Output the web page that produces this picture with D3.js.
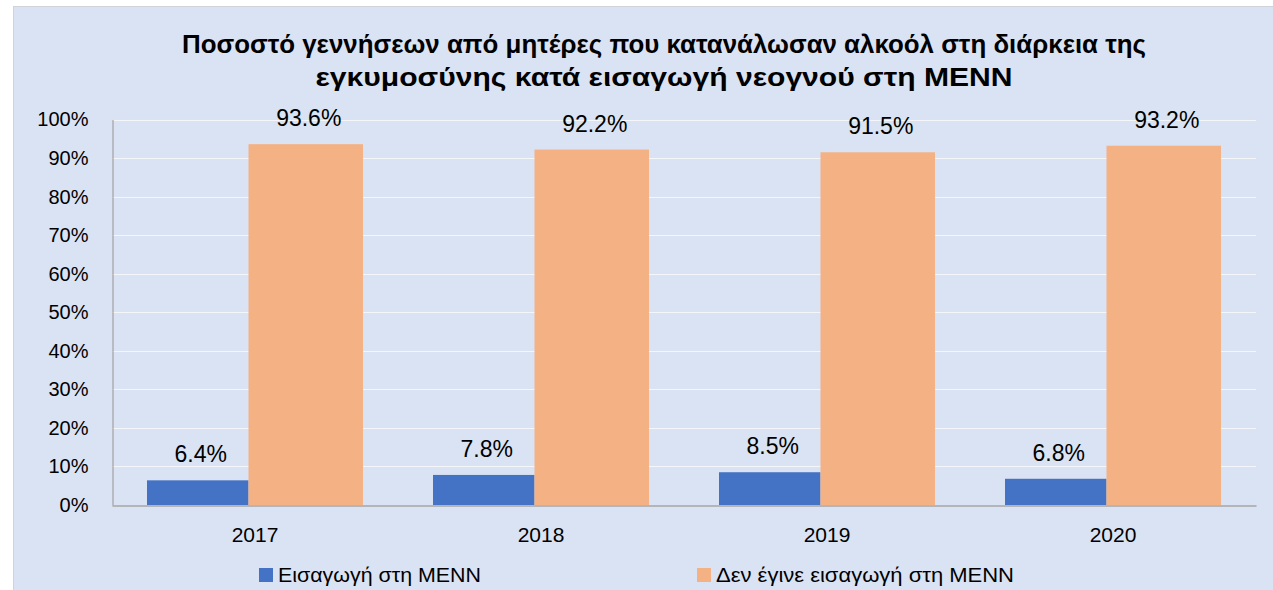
<!DOCTYPE html>
<html>
<head>
<meta charset="utf-8">
<script src="https://cdn.jsdelivr.net/npm/d3@7"></script>
<style>
  body { margin: 0; background: #fff; }
  svg { display: block; font-family: "Liberation Sans", Arial, sans-serif; }
</style>
</head>
<body>
<svg class="vis" width="1273" height="590"></svg>
<script>
// chart data
const years = ["2017", "2018", "2019", "2020"];
const admitted = [6.4, 7.8, 8.5, 6.8];        // Εισαγωγή στη ΜΕΝΝ
const notAdmitted = [93.6, 92.2, 91.5, 93.2]; // Δεν έγινε εισαγωγή στη ΜΕΝΝ
const seriesNames = ["Εισαγωγή στη ΜΕΝΝ", "Δεν έγινε εισαγωγή στη ΜΕΝΝ"];
const yTicks = [0, 10, 20, 30, 40, 50, 60, 70, 80, 90, 100];
const titleLines = [
  "Ποσοστό γεννήσεων από μητέρες που κατανάλωσαν αλκοόλ στη διάρκεια της",
  "εγκυμοσύνης κατά εισαγωγή νεογνού στη ΜΕΝΝ"
];

const colors = ["#4472c4", "#f4b183"];

const svg = d3.select("svg.vis");

// panel
svg.append("rect")
  .attr("x", 13.5).attr("y", 6.5)
  .attr("width", 1262).attr("height", 590)
  .attr("fill", "#dae3f3")
  .attr("stroke", "#d0d4da");

// title
const titleWidths = [964, 697];
svg.append("g").selectAll("text")
  .data(titleLines)
  .join("text")
  .attr("x", 664)
  .attr("y", (d, i) => 53 + i * 33)
  .attr("text-anchor", "middle")
  .attr("font-weight", "bold")
  .attr("font-size", 26)
  .attr("fill", "#000")
  .attr("textLength", (d, i) => titleWidths[i])
  .attr("lengthAdjust", "spacingAndGlyphs")
  .text(d => d);

const x = d3.scaleBand()
  .domain(years)
  .range([112, 1256])
  .paddingInner(0)
  .paddingOuter(0);

const y = d3.scaleLinear()
  .domain([0, 100])
  .range([505, 119.5]);

const grpPad = 35;            // gap on each side of the pair of bars
const split = 0.47;           // share of the pair taken by the first bar

// gridlines
svg.append("g").selectAll("line")
  .data(yTicks.filter(t => t > 0))
  .join("line")
  .attr("x1", 112).attr("x2", 1256)
  .attr("y1", d => Math.round(y(d)) + 0.5)
  .attr("y2", d => Math.round(y(d)) + 0.5)
  .attr("stroke", "#f4f6f9")
  .attr("stroke-width", 1.2);

// y axis
const yAxis = svg.append("g")
  .attr("transform", "translate(112.5,0)")
  .call(d3.axisLeft(y).tickValues(yTicks).tickSize(0).tickPadding(24).tickFormat(d => d + "%"));
yAxis.select(".domain").attr("stroke", "#a6a6a6").attr("stroke-width", 1.3);
yAxis.selectAll("text")
  .attr("font-size", 20)
  .attr("font-family", "Liberation Sans, Arial, sans-serif")
  .attr("fill", "#000");

// bars
const inner = (x.bandwidth() - 2 * grpPad);
const bars = svg.append("g");
years.forEach((yr, i) => {
  const x0 = x(yr) + grpPad;
  const parts = [
    { v: admitted[i], x: x0, w: inner * split, c: colors[0] },
    { v: notAdmitted[i], x: x0 + inner * split, w: inner * (1 - split), c: colors[1] }
  ];
  bars.selectAll(null)
    .data(parts)
    .join("rect")
    .attr("x", d => d.x)
    .attr("y", d => y(d.v))
    .attr("width", d => d.w)
    .attr("height", d => y(0) - y(d.v))
    .attr("fill", d => d.c);
  bars.selectAll(null)
    .data(parts)
    .join("text")
    .attr("x", d => d.x + d.w / 2 + 3)
    .attr("y", d => y(d.v) - 18)
    .attr("text-anchor", "middle")
    .attr("font-size", 23)
    .attr("fill", "#000")
    .text(d => d.v.toFixed(1) + "%");
});

// x axis
const xAxis = svg.append("g")
  .attr("transform", "translate(0,505.5)")
  .call(d3.axisBottom(x).tickSize(0).tickPadding(22));
xAxis.select(".domain").attr("stroke", "#a6a6a6").attr("stroke-width", 1.3);
xAxis.selectAll("text")
  .attr("font-size", 21)
  .attr("font-family", "Liberation Sans, Arial, sans-serif")
  .attr("fill", "#000");

// legend
const legendX = [259, 697];
const legendW = [203, 298];
const lg = svg.append("g").selectAll("g")
  .data(seriesNames)
  .join("g")
  .attr("transform", (d, i) => `translate(${legendX[i]},568)`);
lg.append("rect")
  .attr("width", 14).attr("height", 14)
  .attr("fill", (d, i) => colors[i]);
lg.append("text")
  .attr("x", 19).attr("y", 14)
  .attr("font-size", 20)
  .attr("fill", "#000")
  .attr("textLength", (d, i) => legendW[i])
  .attr("lengthAdjust", "spacingAndGlyphs")
  .text(d => d);
</script>
</body>
</html>
